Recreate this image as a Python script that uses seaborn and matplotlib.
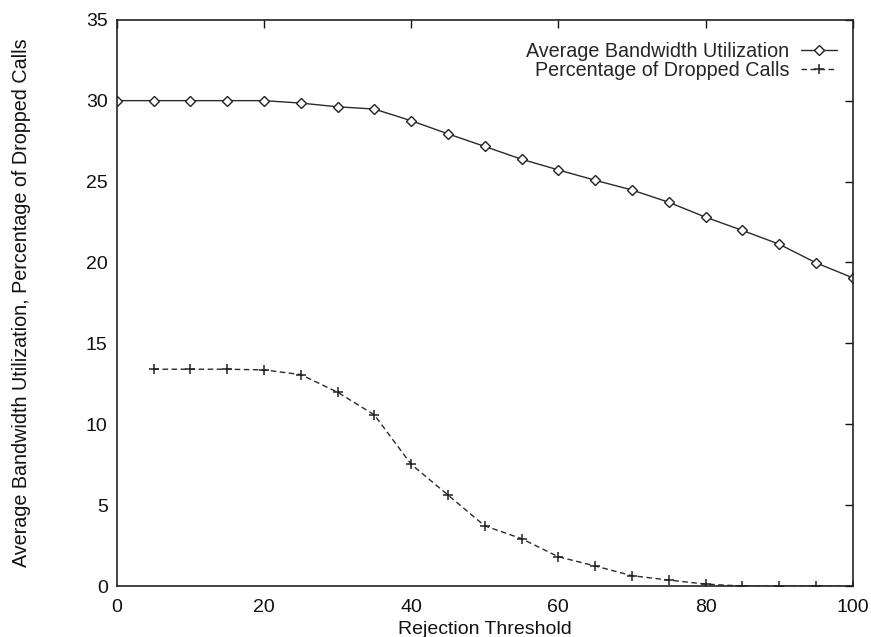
import matplotlib
matplotlib.use("Agg")
import matplotlib.pyplot as plt
import seaborn as sns
import pandas as pd

# Rejection threshold sweep
thresholds = [0, 5, 10, 15, 20, 25, 30, 35, 40, 45, 50,
              55, 60, 65, 70, 75, 80, 85, 90, 95, 100]

# Average bandwidth utilization per threshold
bandwidth = [30.0, 30.0, 30.0, 30.0, 30.0, 29.85, 29.62, 29.48, 28.76, 27.95, 27.17,
             26.38, 25.72, 25.08, 24.48, 23.72, 22.8, 21.98, 21.13, 19.98, 19.05]

# Percentage of dropped calls (no data at threshold 0)
drop_thresholds = [5, 10, 15, 20, 25, 30, 35, 40, 45, 50,
                   55, 60, 65, 70, 75, 80, 85, 90, 95, 100]
dropped = [13.4, 13.4, 13.4, 13.36, 13.07, 11.98, 10.58, 7.53, 5.63, 3.72,
           2.93, 1.81, 1.24, 0.64, 0.37, 0.12, 0.0, 0.0, 0.0, 0.0]

label_bw = "Average Bandwidth Utilization"
label_dc = "Percentage of Dropped Calls"

x_ticks = [0, 20, 40, 60, 80, 100]
y_ticks = [0, 5, 10, 15, 20, 25, 30, 35]

sns.set_style("white")
plt.rcParams["font.family"] = ["Liberation Sans", "DejaVu Sans"]

bw_df = pd.DataFrame({"threshold": thresholds, "value": bandwidth})
dc_df = pd.DataFrame({"threshold": drop_thresholds, "value": dropped})

fig = plt.figure(figsize=(8.71, 6.37), dpi=100)
ax = fig.add_axes([0.134, 0.080, 0.845, 0.889])

sns.lineplot(data=bw_df, x="threshold", y="value", ax=ax, color="#2a2a2a",
             linewidth=1.0, marker="D", markersize=4.6, markerfacecolor="white",
             markeredgecolor="#222222", markeredgewidth=1.0, label=label_bw)
sns.lineplot(data=dc_df, x="threshold", y="value", ax=ax, color="#2a2a2a",
             linewidth=1.0, marker="+", markersize=7, markeredgewidth=1.1,
             markeredgecolor="#222222", label=label_dc)
ax.lines[1].set_dashes([4, 2.5])

ax.set_xlim(0, 100)
ax.set_ylim(0, 35)
ax.set_xticks(x_ticks)
ax.set_yticks(y_ticks)
ax.tick_params(direction="in", length=6, width=1.0, top=True, right=True,
               labelsize=14, colors="#111111")
ax.tick_params(axis="x", pad=9)
ax.tick_params(axis="y", pad=6.5)
for s in ax.spines.values():
    s.set_color("#222222")
    s.set_linewidth(1.2)

ax.set_xlabel("Rejection Threshold", fontsize=14, color="#111111")
ax.set_ylabel("Average Bandwidth Utilization, Percentage of Dropped Calls",
              fontsize=14.2, color="#111111")
ax.xaxis.set_label_coords(0.5, -0.061)
ax.yaxis.set_label_coords(-0.117, 0.5)

leg = ax.legend(loc="upper right", bbox_to_anchor=(1.0, 0.989), frameon=False,
                markerfirst=False, fontsize=14.2, handlelength=1.8,
                labelspacing=0.02, borderaxespad=0.4, borderpad=0.4,
                handletextpad=0.6)

fig.savefig("out.png", dpi=100)
